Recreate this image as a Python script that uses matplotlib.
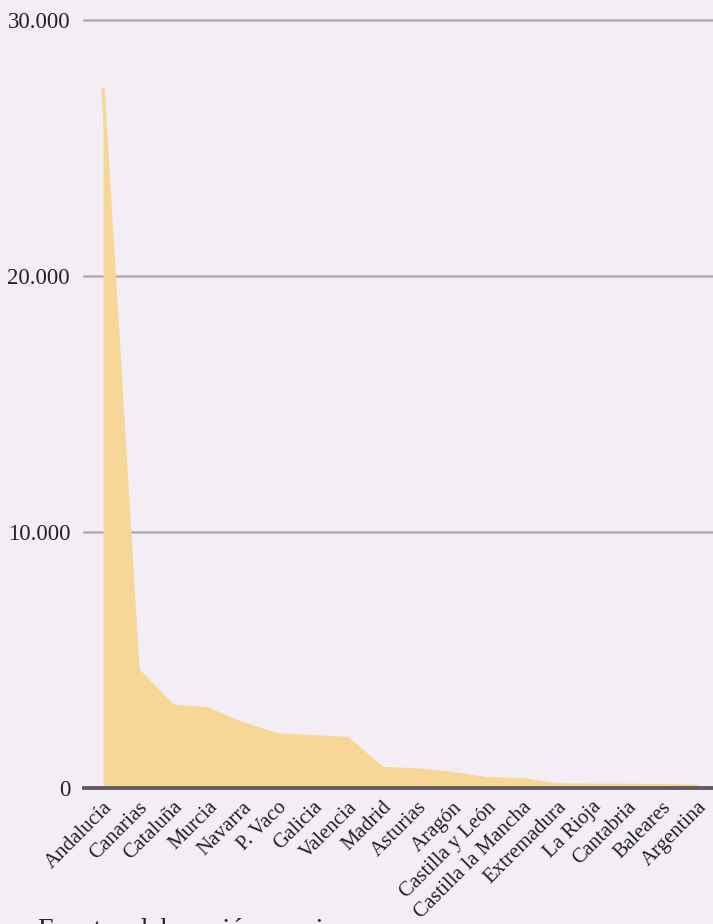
import numpy as np
import matplotlib
matplotlib.use("Agg")
from matplotlib import pyplot as plt

# datos
regiones = ["Andalucía", "Canarias", "Cataluña", "Murcia", "Navarra", "P. Vaco",
            "Galicia", "Valencia", "Madrid", "Asturias", "Aragón", "Castilla y León",
            "Castilla la Mancha", "Extremadura", "La Rioja", "Cantabria", "Baleares",
            "Argentina"]
valores = [27300, 4600, 3200, 3080, 2500, 2070, 2000, 1930, 760, 700, 560, 360,
           320, 120, 100, 100, 90, 60]
yticks = [0, 10000, 20000, 30000]
ytick_labels = ["0", "10.000", "20.000", "30.000"]

bg = "#f3eef6"
fill_color = "#f7d795"
font = ["Liberation Serif", "DejaVu Serif"]

fig = plt.figure(figsize=(7.13, 9.24), dpi=100, facecolor=bg)
ax = fig.add_axes([84 / 713, (924 - 788) / 924, 1 - 84 / 713, (788 - 20) / 924])
ax.set_facecolor(bg)

x = np.arange(len(regiones))
ax.fill_between(x, 0, valores, color=fill_color, lw=0, zorder=2)
ax.plot(x, valores, color=fill_color, lw=2.5, solid_capstyle="round", zorder=2)

ax.set_xlim(-0.544, len(regiones) - 1 + 0.46)
ax.set_ylim(0, 30000)

for y in yticks[1:]:
    ax.axhline(y, color="#b3aeb6", lw=1.8, zorder=1, clip_on=False)
ax.axhline(0, color="#5f5b60", lw=2.8, zorder=3, clip_on=False)

ax.set_yticks(yticks)
ax.set_yticklabels(ytick_labels, family=font, fontsize=16.5, color="#222")
ax.set_xticks(x)
ax.set_xticklabels(regiones, rotation=45, ha="right", rotation_mode="anchor",
                   family=font, fontsize=15, color="#222")
ax.tick_params(axis="both", length=0)
ax.tick_params(axis="x", pad=7)
ax.tick_params(axis="y", pad=10)
for s in ax.spines.values():
    s.set_visible(False)

fig.text(38 / 713, 1 - 937 / 924, "Fuente: elaboración propia", family=font,
         fontsize=20, color="#222", va="baseline", ha="left")

fig.savefig("out.png", dpi=100, facecolor=bg)
